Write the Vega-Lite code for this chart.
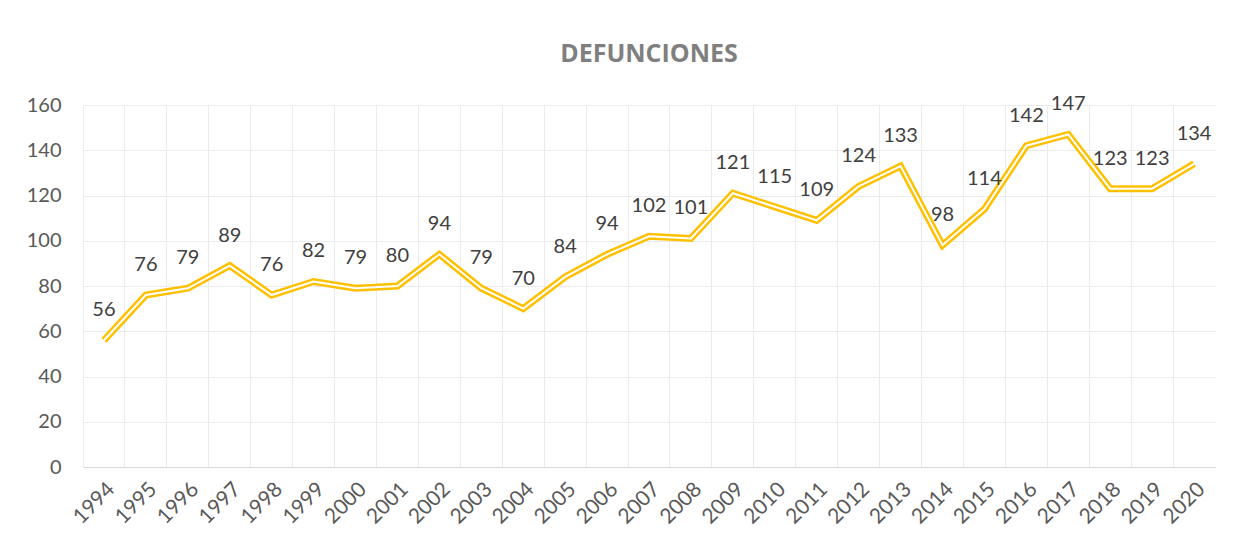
{
  "$schema": "https://vega.github.io/schema/vega-lite/v6.json",
  "autosize": {"type": "none"},
  "width": 1132,
  "height": 362,
  "padding": {"left": 83, "top": 105, "right": 18, "bottom": 83},
  "background": "white",
  "title": {
    "text": "DEFUNCIONES",
    "font": "Open Sans",
    "fontSize": 25,
    "fontWeight": "bold",
    "color": "#7f7f7f",
    "anchor": "middle",
    "offset": 27
  },
  "config": {
    "view": {"stroke": null},
    "font": "Lato"
  },
  "data": {
    "values": [
      {"year": "1994", "deaths": 56},
      {"year": "1995", "deaths": 76},
      {"year": "1996", "deaths": 79},
      {"year": "1997", "deaths": 89},
      {"year": "1998", "deaths": 76},
      {"year": "1999", "deaths": 82},
      {"year": "2000", "deaths": 79},
      {"year": "2001", "deaths": 80},
      {"year": "2002", "deaths": 94},
      {"year": "2003", "deaths": 79},
      {"year": "2004", "deaths": 70},
      {"year": "2005", "deaths": 84},
      {"year": "2006", "deaths": 94},
      {"year": "2007", "deaths": 102},
      {"year": "2008", "deaths": 101},
      {"year": "2009", "deaths": 121},
      {"year": "2010", "deaths": 115},
      {"year": "2011", "deaths": 109},
      {"year": "2012", "deaths": 124},
      {"year": "2013", "deaths": 133},
      {"year": "2014", "deaths": 98},
      {"year": "2015", "deaths": 114},
      {"year": "2016", "deaths": 142},
      {"year": "2017", "deaths": 147},
      {"year": "2018", "deaths": 123},
      {"year": "2019", "deaths": 123},
      {"year": "2020", "deaths": 134}
    ]
  },
  "encoding": {
    "x": {
      "field": "year",
      "type": "ordinal",
      "scale": {"type": "band", "paddingInner": 0, "paddingOuter": 0},
      "axis": {
        "title": null,
        "labelAngle": -45,
        "labelFont": "Lato",
        "labelFontSize": 21,
        "labelColor": "#595959",
        "labelPadding": 11,
        "ticks": false,
        "domain": true,
        "domainColor": "#d9d9d9",
        "domainWidth": 1,
        "grid": true,
        "gridColor": "#ebebeb",
        "gridWidth": 1,
        "bandPosition": 0
      }
    },
    "y": {
      "field": "deaths",
      "type": "quantitative",
      "scale": {"domain": [0, 160], "nice": false},
      "axis": {
        "title": null,
        "values": [0, 20, 40, 60, 80, 100, 120, 140, 160],
        "labelFont": "Lato",
        "labelFontSize": 20,
        "labelColor": "#595959",
        "labelPadding": 22,
        "ticks": false,
        "domain": false,
        "grid": true,
        "gridColor": "#ebebeb",
        "gridWidth": 1
      }
    }
  },
  "layer": [
    {"mark": {"type": "line", "color": "#ffc000", "strokeWidth": 7, "strokeJoin": "miter"}},
    {"mark": {"type": "line", "color": "#ffffff", "strokeWidth": 2, "strokeJoin": "miter"}},
    {
      "mark": {"type": "text", "dy": -30, "font": "Lato", "fontSize": 20, "color": "#404040", "baseline": "middle"},
      "encoding": {"text": {"field": "deaths", "type": "quantitative"}}
    }
  ]
}
